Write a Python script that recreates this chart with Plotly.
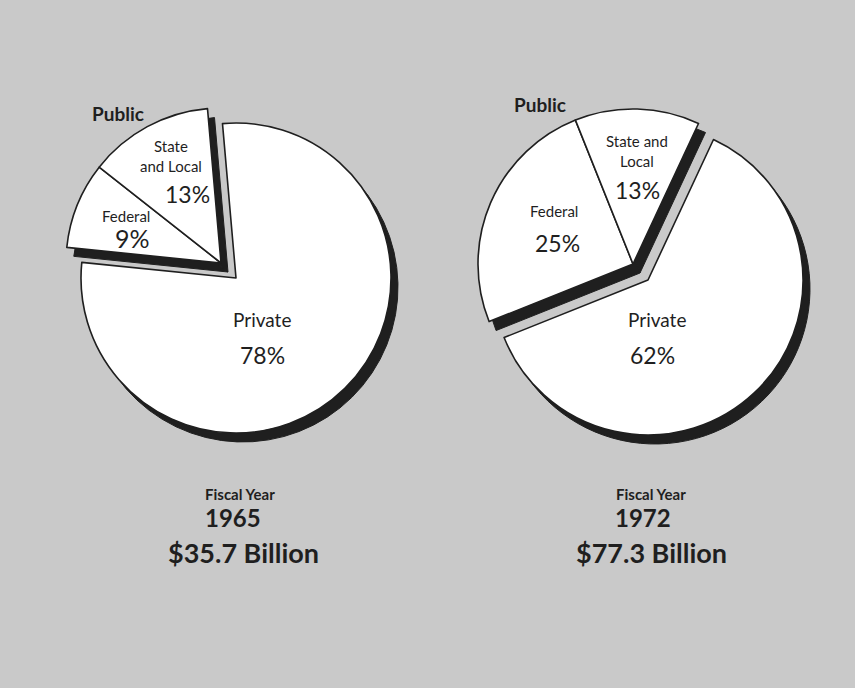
import plotly.graph_objects as go

# ---------------- data ----------------
categories = ["Private", "Federal", "State and Local"]
values_1965 = [78, 9, 13]
values_1972 = [62, 25, 13]
years = ["1965", "1972"]
totals = ["$35.7 Billion", "$77.3 Billion"]
group_label = "Public"
fy_label = "Fiscal Year"
# how the slice names are broken into lines in each pie
slice_text_1965 = ["Private", "Federal", "State<br>and Local"]
slice_text_1972 = ["Private", "Federal", "State and<br>Local"]

W, H = 855, 688
BG = "#c9c9c9"
INK = "#1f1f1f"
CLEAR = "rgba(0,0,0,0)"
FONT = "Lato"


def dom(cx, cy, size, dx=0, dy=0):
    h = size / 2
    return dict(x=[(cx - h + dx) / W, (cx + h + dx) / W],
                y=[1 - (cy + h + dy) / H, 1 - (cy - h + dy) / H])


def px(x, y):
    return x / W, 1 - y / H


# geometry of each pie (centre, radius, rotation, displacement of public wedge)
pies = [
    dict(values=values_1965, cx=236, cy=278, r=155, rot=-5, pdx=-15, pdy=-15),
    dict(values=values_1972, cx=648, cy=280, r=155, rot=25, pdx=-15, pdy=-16),
]

SH_DX, SH_DY = 7, 9
PRIV = [True, False, False]
PUB = [not m for m in PRIV]


def part_trace(p, mask, fill, line_w, dx, dy, line_color=INK):
    colors = [fill if m else CLEAR for m in mask]
    widths = [line_w if m else 0 for m in mask]
    return go.Pie(
        labels=categories, values=p["values"], sort=False, direction="clockwise",
        rotation=p["rot"], domain=dom(p["cx"], p["cy"], 2 * p["r"], dx, dy),
        marker=dict(colors=colors, line=dict(color=line_color, width=widths)),
        textinfo="none", hoverinfo="skip", showlegend=False)


fig = go.Figure()
for p in pies:
    # shadows
    fig.add_trace(part_trace(p, PRIV, INK, 1, SH_DX, SH_DY))
    fig.add_trace(part_trace(p, PUB, INK, 1, p["pdx"] + SH_DX, p["pdy"] + SH_DY))
for p in pies:
    # white faces
    fig.add_trace(part_trace(p, PRIV, "#ffffff", 1.6, 0, 0))
    fig.add_trace(part_trace(p, PUB, "#ffffff", 1.6, p["pdx"], p["pdy"]))

ann = []


def add(text, x, y, size, weight=400):
    ax, ay = px(x, y)
    ann.append(dict(text=text, x=ax, y=ay,
                    xref="paper", yref="paper", showarrow=False,
                    xanchor="center", yanchor="middle",
                    font=dict(family=FONT, size=size, color=INK, weight=weight)))


# left pie labels
add(group_label, 118, 114, 19, 700)
add(slice_text_1965[2], 171, 156, 15)
add(f"{values_1965[2]}%", 187, 194, 23)
add(slice_text_1965[1], 126, 216, 15)
add(f"{values_1965[1]}%", 132, 238, 25)
add(slice_text_1965[0], 262, 320, 19)
add(f"{values_1965[0]}%", 262, 355, 23)
add(fy_label, 240, 494, 15, 700)
add(years[0], 233, 517, 24, 700)
add(totals[0], 243, 552, 27, 700)

# right pie labels
add(group_label, 540, 104, 19, 700)
add(slice_text_1972[2], 637, 151, 15)
add(f"{values_1972[2]}%", 637, 190, 23)
add(slice_text_1972[1], 554, 211, 15)
add(f"{values_1972[1]}%", 557, 243, 23)
add(slice_text_1972[0], 657, 320, 19)
add(f"{values_1972[0]}%", 652, 355, 23)
add(fy_label, 651, 494, 15, 700)
add(years[1], 643, 517, 24, 700)
add(totals[1], 651, 552, 27, 700)

fig.update_layout(
    width=W, height=H,
    margin=dict(l=0, r=0, t=0, b=0),
    paper_bgcolor=BG, plot_bgcolor=BG,
    annotations=ann,
)

fig.write_html("out.html", config={"displayModeBar": False},
               post_script="document.body.style.margin='0';document.body.style.background='%s';" % BG)
